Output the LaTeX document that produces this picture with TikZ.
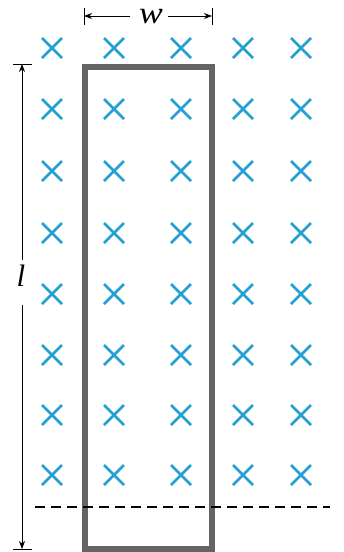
\documentclass[tikz,border=0pt]{standalone}
\usepackage{fontspec}
\setmainfont{Liberation Serif}
\usetikzlibrary{arrows.meta}
\definecolor{fieldblue}{RGB}{35,160,210}
\definecolor{loopgray}{RGB}{100,100,100}
\tikzset{
  fieldx/.style={draw=fieldblue, line width=2.8pt},
  dimline/.style={draw=black, line width=0.8pt},
  dimarrow/.style={dimline, -{Stealth[length=8pt,width=6pt]}},
  lbl/.style={font=\itshape\fontsize{31}{31}\selectfont, inner sep=0pt, anchor=base}
}
\begin{document}
\begin{tikzpicture}[x=1pt,y=-1pt]
\useasboundingbox (0,0) rectangle (343,552);
% crosses
\foreach \cx in {52,114,181,243,301}{
  \foreach \cy in {48,109,171,233,294,355,415,475}{
    \draw[fieldx] (\cx-10,\cy-10) -- (\cx+10,\cy+10) (\cx-10,\cy+10) -- (\cx+10,\cy-10);
  }
}
% loop
\node[draw=loopgray, line width=5.5pt, minimum width=127pt, minimum height=482pt, inner sep=0pt] (loop) at (148.5,308) {};
% dashed line
\coordinate (dl) at (35,507);
\coordinate (dr) at (330,507);
\draw[black, line width=2.5pt, dash pattern=on 10pt off 6pt] (dl) -- (dr);
% w dimension
\node[lbl, xscale=1.15] (w) at (151,23) {w};
\coordinate (wl) at (84,16);
\coordinate (wr) at (212,16);
\draw[dimline] (84,8) -- (84,25);
\draw[dimline] (212,8) -- (212,25);
\draw[dimarrow] (130,16) coordinate (wla) -- (wl);
\draw[dimarrow] (168,16) coordinate (wra) -- (wr);
% l dimension
\node[lbl] (l) at (21,286) {l};
\coordinate (lt) at (22,64);
\coordinate (lb) at (22,549);
\draw[dimline] (13,64) -- (32,64);
\draw[dimline] (13,549) -- (32,549);
\draw[dimarrow] (22,260) -- (lt);
\draw[dimarrow] (22,305) -- (lb);
\end{tikzpicture}
\end{document}
